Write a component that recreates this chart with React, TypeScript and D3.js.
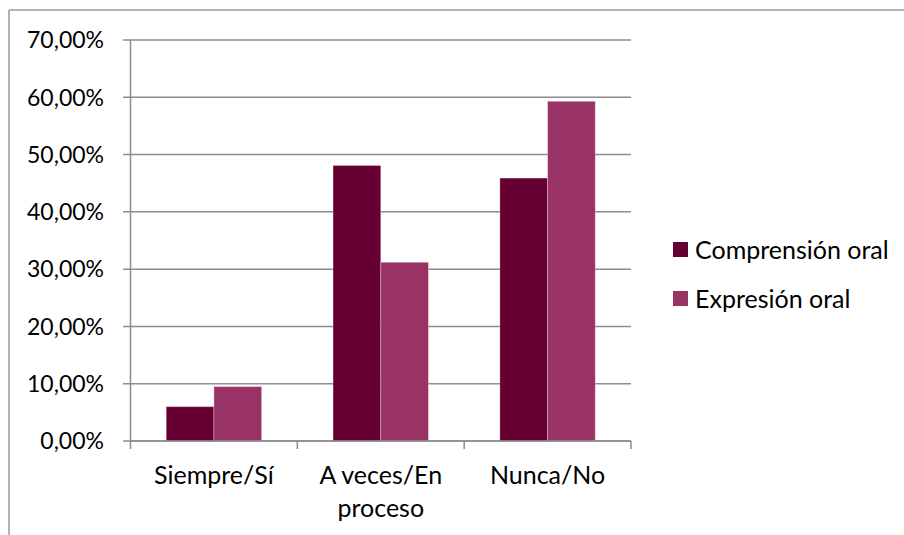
import React from "react";
import * as d3 from "d3";

const categories: string[][] = [["Siempre/Sí"], ["A veces/En", "proceso"], ["Nunca/No"]];
const seriesNames = ["Comprensión oral", "Expresión oral"];
const comprension = [0.06, 0.481, 0.459];
const expresion = [0.095, 0.312, 0.593];
const yTicks = [0, 0.1, 0.2, 0.3, 0.4, 0.5, 0.6, 0.7];
const colors = ["#660033", "#993366"];

const W = 904;
const H = 535;
const FONT = "Lato, 'Open Sans', sans-serif";
const FS_Y = 23;
const FS = 25;

export default function App() {
  const plot = { left: 130.5, right: 631, top: 40, bottom: 441 };
  const x0 = d3
    .scaleBand<number>()
    .domain(categories.map((_, i) => i))
    .range([plot.left, plot.right])
    .paddingInner(0)
    .paddingOuter(0);
  const groupPad = 0.214;
  const x1 = d3
    .scaleBand<number>()
    .domain([0, 1])
    .range([x0.bandwidth() * groupPad, x0.bandwidth() * (1 - groupPad)])
    .padding(0);
  const y = d3.scaleLinear().domain([0, 0.7]).range([plot.bottom, plot.top]);
  const fmt = (v: number) => (v * 100).toFixed(2).replace(".", ",") + "%";
  const series = [comprension, expresion];
  const gridColor = "#8c8c8c";

  const catTicks = d3.range(categories.length + 1).map((i) =>
    i < categories.length ? (x0(i) as number) : plot.right
  );

  return (
    <svg
      width={W}
      height={H}
      style={{ position: "absolute", left: 0, top: 0, background: "#fff" }}
      fontFamily={FONT}
    >
      <line x1={9} y1={10} x2={W} y2={10} stroke="#9a9a9a" strokeWidth={1.5} />
      <line x1={9} y1={10} x2={9} y2={H} stroke="#9a9a9a" strokeWidth={1.5} />

      {yTicks.map((t) => (
        <g key={t}>
          <line
            x1={plot.left - 7.5}
            x2={plot.right}
            y1={y(t)}
            y2={y(t)}
            stroke={gridColor}
            strokeWidth={1.5}
          />
          <text x={104} y={y(t)} dy="0.36em" textAnchor="end" fontSize={FS_Y} fill="#000">
            {fmt(t)}
          </text>
        </g>
      ))}
      <line x1={plot.left} x2={plot.left} y1={plot.top} y2={plot.bottom} stroke={gridColor} strokeWidth={1.5} />

      {categories.map((_, i) => (
        <g key={i} transform={`translate(${x0(i)},0)`}>
          {series.map((s, j) => (
            <rect
              key={j}
              x={x1(j)}
              y={y(s[i])}
              width={x1.bandwidth()}
              height={plot.bottom - y(s[i])}
              fill={colors[j]}
              stroke="rgba(255,255,255,0.3)"
              strokeWidth={1}
            />
          ))}
        </g>
      ))}

      <line x1={plot.left} x2={plot.right} y1={plot.bottom} y2={plot.bottom} stroke={gridColor} strokeWidth={1.5} />
      {catTicks.map((cx, i) => (
        <line key={i} x1={cx} x2={cx} y1={plot.bottom} y2={plot.bottom + 8} stroke={gridColor} strokeWidth={1.5} />
      ))}
      {categories.map((lines, i) => (
        <text
          key={i}
          x={(x0(i) as number) + x0.bandwidth() / 2}
          y={484}
          textAnchor="middle"
          fontSize={FS}
          fill="#000"
        >
          {lines.map((l, k) => (
            <tspan key={k} x={(x0(i) as number) + x0.bandwidth() / 2} dy={k === 0 ? 0 : 33}>
              {l}
            </tspan>
          ))}
        </text>
      ))}

      {seriesNames.map((n, j) => (
        <g key={n} transform={`translate(673, ${250 + j * 49})`}>
          <rect x={0} y={-8} width={15} height={15} fill={colors[j]} />
          <text x={22} y={0} dy="0.36em" fontSize={FS} fill="#000">
            {n}
          </text>
        </g>
      ))}
    </svg>
  );
}
